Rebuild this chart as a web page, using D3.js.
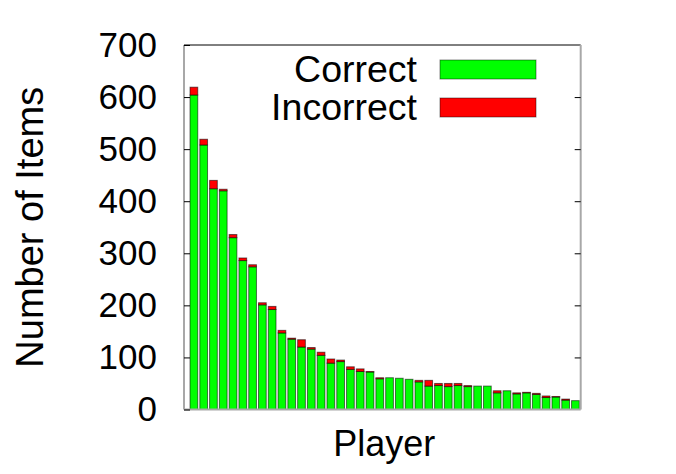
<!DOCTYPE html>
<html><head><meta charset="utf-8">
<script src="https://cdn.jsdelivr.net/npm/d3@7"></script>
<style>body{margin:0;background:#fff}svg{display:block}text{font-family:"Liberation Sans",Arial,sans-serif;fill:#000}</style>
</head><body><svg id="c" width="676" height="474"></svg>
<script>
const players = d3.range(1, 41);
const correct = [604,508,424,420,330,286,274,201,192,147,135,120,116,104,89,92,77,73,72,59,61,60,58,53,45,46,44,46,44,45,45,32,36,30,32,29,23,24,18,17];
const incorrect = [15,11,16,3,6,5,4,4,6,5,2,14,3,6,8,3,5,5,1,2,0,0,0,3,11,4,6,4,2,0,0,4,0,2,1,2,3,1,2,0];
const yTicks = [0,100,200,300,400,500,600,700];
const seriesNames = ["Correct","Incorrect"];
const colors = ["#00ff00","#ff0000"];

const svg = d3.select("#c");
const L = 184, R = 580.7, T = 45, B = 409.5;
const x = d3.scaleBand().domain(players).range([L, R]).paddingInner(0.21).paddingOuter(0.38).align(0.81);
const y = d3.scaleLinear().domain([0, 700]).range([B, T]);

const rows = players.map((p, i) => ({player: p, Correct: correct[i], Incorrect: incorrect[i]}));
const stacked = d3.stack().keys(seriesNames)(rows);

const g = svg.append("g");
stacked.forEach((s, si) => {
  g.append("g").selectAll("rect").data(s).join("rect")
    .attr("x", (d, i) => x(players[i]))
    .attr("width", x.bandwidth())
    .attr("y", d => y(d[1]))
    .attr("height", d => Math.max(0, y(d[0]) - y(d[1])))
    .attr("fill", colors[si])
    .attr("stroke", d => (d[1] - d[0]) > 0 ? "rgba(0,0,0,0.55)" : "none")
    .attr("stroke-width", 1);
});

// frame
svg.append("line").attr("x1", L).attr("x2", R).attr("y1", T).attr("y2", T).attr("stroke", "#000").attr("stroke-width", 1);
svg.append("line").attr("x1", L).attr("x2", L).attr("y1", T).attr("y2", B).attr("stroke", "#a8a8a8").attr("stroke-width", 2);
svg.append("line").attr("x1", R).attr("x2", R).attr("y1", T).attr("y2", B).attr("stroke", "#a8a8a8").attr("stroke-width", 2);
svg.append("line").attr("x1", L).attr("x2", R).attr("y1", B).attr("y2", B).attr("stroke", "#a8a8a8").attr("stroke-width", 2);

// y axis
const axL = d3.axisLeft(y).tickValues(yTicks).tickSize(-6).tickPadding(27).tickFormat(d3.format("d"));
const ga = svg.append("g").attr("transform", `translate(${L},0)`).call(axL);
ga.select(".domain").remove();
ga.selectAll(".tick line").attr("stroke", "#000");
ga.selectAll(".tick text").attr("font-size", 35).attr("font-family", "Liberation Sans, Arial, sans-serif").attr("dy", "0.32em");
const axR = d3.axisRight(y).tickValues(yTicks.filter(v => v > 0 && v < 700)).tickSize(-6).tickFormat("");
const gr = svg.append("g").attr("transform", `translate(${R},0)`).call(axR);
gr.select(".domain").remove();
gr.selectAll(".tick line").attr("stroke", "#000");

// axis labels
svg.append("text").attr("transform", `translate(43,${(T + B) / 2}) rotate(-90)`).attr("text-anchor", "middle").attr("font-size", 38).text("Number of Items");
svg.append("text").attr("x", (L + R) / 2 + 2).attr("y", 456).attr("text-anchor", "middle").attr("font-size", 36).text("Player");

// legend
const leg = svg.append("g");
seriesNames.forEach((n, i) => {
  const yy = 70 + i * 38;
  leg.append("text").attr("x", 417).attr("y", yy + 12).attr("text-anchor", "end").attr("font-size", 37.5).text(n);
  leg.append("rect").attr("x", 440).attr("y", yy - 10).attr("width", 96).attr("height", 19)
    .attr("fill", colors[i]).attr("stroke", "rgba(0,0,0,0.45)").attr("stroke-width", 1);
});
</script></body></html>
